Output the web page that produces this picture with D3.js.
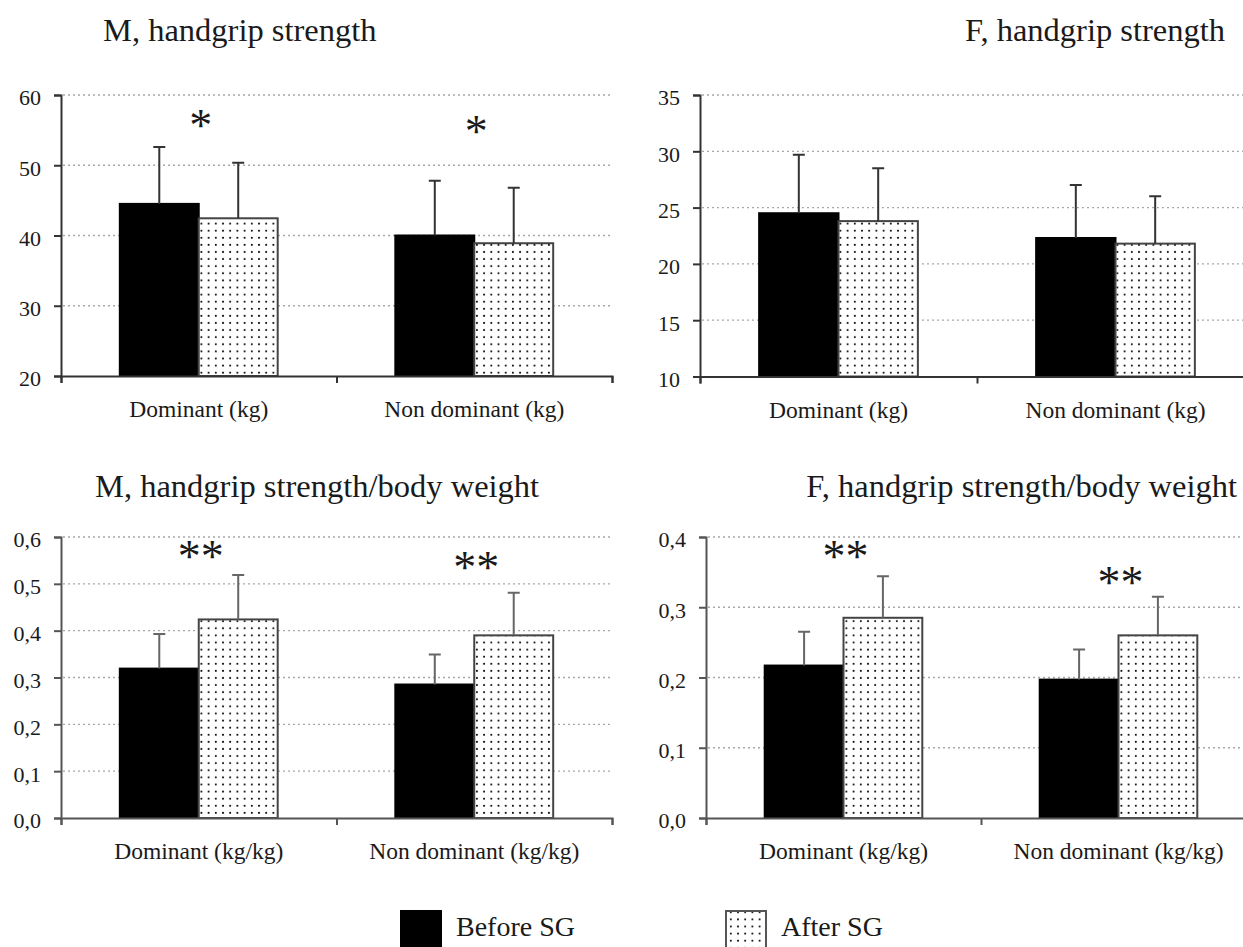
<!DOCTYPE html>
<html>
<head>
<meta charset="utf-8">
<script src="https://cdn.jsdelivr.net/npm/d3@7"></script>
<style>
    body { margin: 0; background: #fff; }
    svg, svg text { font-family: 'Liberation Serif', 'Times New Roman', serif; }
    svg { display: block; }
</style>
</head>
<body>
<svg id="figure"></svg>
<script>
// categories and series
const categoriesKg = ['Dominant (kg)', 'Non dominant (kg)'];
const categoriesRatio = ['Dominant (kg/kg)', 'Non dominant (kg/kg)'];
const seriesNames = ['Before SG', 'After SG'];

// M, handgrip strength
const mStrengthBefore = [44.5, 40.0];
const mStrengthBeforeSd = [8.1, 7.8];
const mStrengthAfter = [42.45, 38.9];
const mStrengthAfterSd = [7.9, 7.9];
const mStrengthSig = ['*', '*'];
const mStrengthSigAt = [56.5, 55.6];
const mStrengthTicks = [20, 30, 40, 50, 60];

// F, handgrip strength
const fStrengthBefore = [24.5, 22.3];
const fStrengthBeforeSd = [5.2, 4.7];
const fStrengthAfter = [23.8, 21.8];
const fStrengthAfterSd = [4.7, 4.2];
const fStrengthSig = ['', ''];
const fStrengthSigAt = [0, 0];
const fStrengthTicks = [10, 15, 20, 25, 30, 35];

// M, handgrip strength / body weight
const mRatioBefore = [0.319, 0.285];
const mRatioBeforeSd = [0.074, 0.064];
const mRatioAfter = [0.424, 0.390];
const mRatioAfterSd = [0.095, 0.091];
const mRatioSig = ['**', '**'];
const mRatioSigAt = [0.570, 0.547];
const mRatioTicks = [0, 0.1, 0.2, 0.3, 0.4, 0.5, 0.6];

// F, handgrip strength / body weight
const fRatioBefore = [0.217, 0.197];
const fRatioBeforeSd = [0.048, 0.043];
const fRatioAfter = [0.285, 0.260];
const fRatioAfterSd = [0.059, 0.055];
const fRatioSig = ['**', '**'];
const fRatioSigAt = [0.380, 0.343];
const fRatioTicks = [0, 0.1, 0.2, 0.3, 0.4];

function buildRows( categories, before, beforeSd, after, afterSd, sig, sigAt ) {
    return categories.map( (c, i) => ({
        category: c,
        sig: sig[i],
        sigAt: sigAt[i],
        values: [
            {series: seriesNames[0], mean: before[i], sd: beforeSd[i]},
            {series: seriesNames[1], mean: after[i], sd: afterSd[i]}
        ]
    }) );
}

const comma = d3.formatLocale({decimal: ',', thousands: '.', grouping: [3], currency: ['', '']});
const serif = "'Liberation Serif', 'Times New Roman', serif";

const svg = d3.select('#figure')
    .attr('width', 1243)
    .attr('height', 947);

// dotted fill used for "After SG"
const pattern = svg.append('defs').append('pattern')
    .attr('id', 'dots')
    .attr('patternUnits', 'userSpaceOnUse')
    .attr('width', 7.2)
    .attr('height', 7.1);
pattern.append('rect').attr('width', 7.2).attr('height', 7.1).attr('fill', '#fff');
pattern.append('circle').attr('cx', 3.6).attr('cy', 3.5).attr('r', 1).attr('fill', '#000');

const fills = ['#000', 'url(#dots)'];

class GroupedBarChart {

    constructor( config, data ) {
        this.config = {
            parent: config.parent,
            left: config.left,
            right: config.right,
            top: config.top,
            bottom: config.bottom,
            gridEnd: config.gridEnd || config.right,
            domain: config.domain,
            ticks: config.ticks,
            format: config.format || (d => d),
            title: config.title || '',
            titleX: config.titleX,
            titleY: config.titleY,
            titleAnchor: config.titleAnchor || 'start',
            axisColor: config.axisColor || '#333',
            errColor: config.errColor || '#333'
        }
        this.data = data;
        this.init();
    }

    init() {
        let self = this;
        const c = self.config;

        self.chart = c.parent.append('g');

        self.xscale = d3.scaleBand()
            .range( [c.left, c.right] )
            .padding(0);

        self.xsub = d3.scaleBand()
            .domain( seriesNames )
            .paddingInner(0)
            .paddingOuter(0.745);

        self.xline = d3.scaleLinear()
            .range( [c.left, c.right] );

        self.yscale = d3.scaleLinear()
            .range( [c.bottom, c.top] );

        self.grid_group = self.chart.append('g');
        self.bar_group = self.chart.append('g');
        self.xaxis_group = self.chart.append('g')
            .attr('transform', `translate(0, ${c.bottom})`);
        self.yaxis_group = self.chart.append('g')
            .attr('transform', `translate(${c.left}, 0)`);

        self.chart.append('text')
            .style('font-size', '32.5px')
            .attr('fill', '#1a1a1a')
            .attr('text-anchor', c.titleAnchor)
            .attr('x', c.titleX)
            .attr('y', c.titleY)
            .text( c.title );
    }

    update() {
        let self = this;
        const c = self.config;

        self.xscale.domain( self.data.map( d => d.category ) );
        self.xsub.range( [0, self.xscale.bandwidth()] );
        self.xline.domain( [0, self.data.length] );
        self.yscale.domain( c.domain );

        self.render();
    }

    render() {
        let self = this;
        const c = self.config;

        // dotted grid lines
        self.grid_group.selectAll('line')
            .data( c.ticks.slice(1) )
            .join('line')
            .attr('x1', c.left + 2)
            .attr('x2', c.gridEnd)
            .attr('y1', d => self.yscale(d))
            .attr('y2', d => self.yscale(d))
            .attr('stroke', '#a8a8a8')
            .attr('stroke-width', 1.3)
            .attr('stroke-dasharray', '2,3');

        const groups = self.bar_group.selectAll('g.group')
            .data( self.data )
            .join('g')
            .attr('class', 'group')
            .attr('transform', d => `translate(${self.xscale(d.category)}, 0)`);

        groups.selectAll('rect')
            .data( d => d.values )
            .join('rect')
            .attr('x', d => self.xsub(d.series))
            .attr('y', d => self.yscale(d.mean))
            .attr('width', self.xsub.bandwidth())
            .attr('height', d => self.yscale(c.domain[0]) - self.yscale(d.mean))
            .attr('fill', (d, i) => fills[i])
            .attr('stroke', (d, i) => i == 0 ? '#000' : '#444')
            .attr('stroke-width', 2);

        // upper error bars
        groups.selectAll('path.err')
            .data( d => d.values )
            .join('path')
            .attr('class', 'err')
            .attr('d', d => {
                const cx = self.xsub(d.series) + self.xsub.bandwidth() / 2;
                const y0 = self.yscale(d.mean);
                const y1 = self.yscale(d.mean + d.sd);
                return `M${cx},${y0}V${y1}M${cx - 6},${y1}H${cx + 6}`;
            })
            .attr('fill', 'none')
            .attr('stroke', c.errColor)
            .attr('stroke-width', 2);

        groups.selectAll('text.sig')
            .data( d => [d] )
            .join('text')
            .attr('class', 'sig')
            .style('font-size', '46px')
            .attr('fill', '#1a1a1a')
            .attr('text-anchor', 'middle')
            .attr('x', self.xscale.bandwidth() / 2 + 2)
            .attr('y', d => self.yscale(d.sigAt))
            .attr('dy', '0.46em')
            .text( d => d.sig );

        // category labels
        self.chart.selectAll('text.cat')
            .data( self.data )
            .join('text')
            .attr('class', 'cat')
            .style('font-size', '23.5px')
            .attr('fill', '#1a1a1a')
            .attr('text-anchor', 'middle')
            .attr('x', d => self.xscale(d.category) + self.xscale.bandwidth() / 2)
            .attr('y', c.bottom + 41)
            .text( d => d.category );

        const xaxis = d3.axisBottom( self.xline )
            .tickValues( d3.range(self.data.length + 1) )
            .tickFormat('')
            .tickSizeOuter(0)
            .tickSize(7);

        const yaxis = d3.axisLeft( self.yscale )
            .tickValues( c.ticks )
            .tickFormat( c.format )
            .tickSizeOuter(0)
            .tickSize(7)
            .tickPadding(13);

        self.xaxis_group.call( xaxis );
        self.yaxis_group.call( yaxis );

        [self.xaxis_group, self.yaxis_group].forEach( g => {
            g.attr('font-family', serif);
            g.selectAll('path, line')
                .attr('stroke', c.axisColor)
                .attr('stroke-width', 2);
        });
        self.yaxis_group.selectAll('text')
            .style('font-size', '22px')
            .style('font-family', serif)
            .attr('fill', '#1a1a1a')
            .attr('dy', '0.45em');
    }
}

const ratioFormat = comma.format('.1f');

const charts = [
    new GroupedBarChart({
        parent: svg, left: 61, right: 612, top: 95, bottom: 376,
        domain: [20, 60], ticks: mStrengthTicks,
        title: 'M, handgrip strength', titleX: 103, titleY: 41
    }, buildRows(categoriesKg, mStrengthBefore, mStrengthBeforeSd, mStrengthAfter, mStrengthAfterSd, mStrengthSig, mStrengthSigAt)),
    new GroupedBarChart({
        parent: svg, left: 700, right: 1254, top: 95, bottom: 376.5, gridEnd: 1243,
        domain: [10, 35], ticks: fStrengthTicks,
        title: 'F, handgrip strength', titleX: 1225, titleY: 41, titleAnchor: 'end'
    }, buildRows(categoriesKg, fStrengthBefore, fStrengthBeforeSd, fStrengthAfter, fStrengthAfterSd, fStrengthSig, fStrengthSigAt)),
    new GroupedBarChart({
        parent: svg, left: 61, right: 612, top: 537, bottom: 818,
        domain: [0, 0.6], ticks: mRatioTicks, format: ratioFormat,
        axisColor: '#555', errColor: '#666',
        title: 'M, handgrip strength/body weight', titleX: 95, titleY: 497
    }, buildRows(categoriesRatio, mRatioBefore, mRatioBeforeSd, mRatioAfter, mRatioAfterSd, mRatioSig, mRatioSigAt)),
    new GroupedBarChart({
        parent: svg, left: 706, right: 1256, top: 537, bottom: 818, gridEnd: 1243,
        domain: [0, 0.4], ticks: fRatioTicks, format: ratioFormat,
        axisColor: '#555', errColor: '#666',
        title: 'F, handgrip strength/body weight', titleX: 1237, titleY: 497, titleAnchor: 'end'
    }, buildRows(categoriesRatio, fRatioBefore, fRatioBeforeSd, fRatioAfter, fRatioAfterSd, fRatioSig, fRatioSigAt))
];

charts.forEach( chart => chart.update() );

// legend
const legend = svg.append('g');
const legendX = [400, 725];
legend.selectAll('rect')
    .data( seriesNames )
    .join('rect')
    .attr('x', (d, i) => legendX[i] + 1)
    .attr('y', 911)
    .attr('width', 40)
    .attr('height', 42)
    .attr('fill', (d, i) => fills[i])
    .attr('stroke', (d, i) => i == 0 ? '#000' : '#555')
    .attr('stroke-width', 2);
legend.selectAll('text')
    .data( seriesNames )
    .join('text')
    .style('font-size', '28px')
    .attr('fill', '#1a1a1a')
    .attr('x', (d, i) => legendX[i] + 56)
    .attr('y', 936)
    .text( d => d );
</script>
</body>
</html>
